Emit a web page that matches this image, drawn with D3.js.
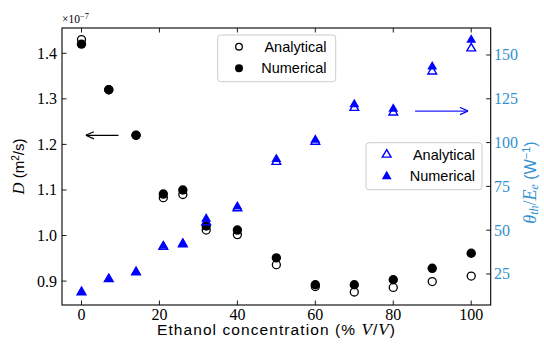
<!DOCTYPE html>
<html><head><meta charset="utf-8">
<script src="https://cdn.jsdelivr.net/npm/d3@7"></script>
<style>body{margin:0;background:#fff}svg{display:block}</style>
</head><body><svg id="c" width="544" height="347"></svg>
<script>
const conc = [0, 7, 14, 21, 26, 32, 40, 50, 60, 70, 80, 90, 100];
const dAnalytical = [1.43, 1.32, 1.22, 1.083, 1.09, 1.012, 1.002, 0.936, 0.888, 0.876, 0.886, 0.899, 0.911];
const dNumerical  = [1.42, 1.32, 1.22, 1.091, 1.10, 1.021, 1.012, 0.951, 0.892, 0.892, 0.903, 0.928, 0.961];
const thAnalytical = [14.6, 22.1, 26, 40.5, 42, 54.5, 62.5, 89, 100.5, 119.8, 117.2, 140.6, 153.8];
const thNumerical  = [14.6, 22.1, 26, 41, 42.5, 56.5, 63.4, 90.5, 101.5, 121.8, 119.2, 143.3, 158.6];
const xTicks = [0, 20, 40, 60, 80, 100];
const yLeftTicks = [0.9, 1.0, 1.1, 1.2, 1.3, 1.4];
const yRightTicks = [25, 50, 75, 100, 125, 150];
const legendLabels = ["Analytical", "Numerical"];

const svg = d3.select("#c");
const L = 62, R = 490.7, T = 28, B = 305;
const x = d3.scaleLinear([-5, 105], [L, R]);
const yL = d3.scaleLinear([0.8475, 1.4555], [B, T]);
const yR = d3.scaleLinear([7.3, 165.4], [B, T]);
const rightColor = "#3391d0";
const serif = "'Liberation Serif', serif";
const sans = "'Liberation Sans', sans-serif";

svg.append("defs").html(`
<marker id="ahK" viewBox="0 0 10 10" refX="10" refY="5" markerWidth="9" markerHeight="9" markerUnits="userSpaceOnUse" orient="auto"><path d="M1,1 L10,5 L1,9" fill="none" stroke="#000" stroke-width="1.3"/></marker>
<marker id="ahB" viewBox="0 0 10 10" refX="10" refY="5" markerWidth="9" markerHeight="9" markerUnits="userSpaceOnUse" orient="auto"><path d="M1,1 L10,5 L1,9" fill="none" stroke="#0000ff" stroke-width="1.3"/></marker>`);

// axes
const tickLen = 4.5;
const gx = svg.append("g");
xTicks.forEach(t => {
  gx.append("line").attr("x1", x(t)).attr("x2", x(t)).attr("y1", B).attr("y2", B - tickLen).attr("stroke", "#000").attr("stroke-width", 0.9);
  gx.append("line").attr("x1", x(t)).attr("x2", x(t)).attr("y1", T).attr("y2", T + tickLen).attr("stroke", "#000").attr("stroke-width", 0.9);
  gx.append("text").attr("x", x(t)).attr("y", 319.5).attr("text-anchor", "middle").attr("font-family", serif).attr("font-size", 16).attr("fill", "#000").text(t);
});
yLeftTicks.forEach(t => {
  gx.append("line").attr("x1", L).attr("x2", L + tickLen).attr("y1", yL(t)).attr("y2", yL(t)).attr("stroke", "#000").attr("stroke-width", 0.9);
  gx.append("text").attr("x", 57).attr("y", yL(t) + 5.5).attr("text-anchor", "end").attr("font-family", serif).attr("font-size", 16).attr("fill", "#000").text(t.toFixed(1));
});
yRightTicks.forEach(t => {
  gx.append("line").attr("x1", R).attr("x2", R - tickLen).attr("y1", yR(t)).attr("y2", yR(t)).attr("stroke", "#000").attr("stroke-width", 0.9);
  gx.append("text").attr("x", 494).attr("y", yR(t) + 5.5).attr("text-anchor", "start").attr("font-family", serif).attr("font-size", 16).attr("fill", rightColor).text(t);
});

// multiplier
const mt = svg.append("text").attr("x", 62).attr("y", 23).attr("font-family", serif).attr("font-size", 11.5).attr("fill", "#000");
mt.append("tspan").text("×10");
mt.append("tspan").attr("dy", -4).attr("font-size", 8.5).text("−7");

// labels
const xl = svg.append("text").attr("x", 157).attr("y", 335).attr("text-anchor", "start").attr("font-family", sans).attr("font-size", 15.5).attr("fill", "#000")
  .attr("textLength", 238).attr("lengthAdjust", "spacing");
xl.append("tspan").text("Ethanol concentration (% ");
xl.append("tspan").attr("font-family", serif).attr("font-style", "italic").attr("font-size", 17).text("V");
xl.append("tspan").text("/");
xl.append("tspan").attr("font-family", serif).attr("font-style", "italic").attr("font-size", 17).text("V");
xl.append("tspan").text(")");

const yl = svg.append("text").attr("transform", `translate(24,${(T + B) / 2}) rotate(-90)`).attr("text-anchor", "middle").attr("font-family", sans).attr("font-size", 15).attr("fill", "#000");
yl.append("tspan").attr("font-family", serif).attr("font-style", "italic").attr("font-size", 16.5).text("D");
yl.append("tspan").text(" (m");
yl.append("tspan").attr("dy", -5).attr("font-size", 10).text("2");
yl.append("tspan").attr("dy", 5).text("/s)");

const yr = svg.append("text").attr("transform", `translate(535.5,${(T + B) / 2 + 16}) rotate(-90)`).attr("text-anchor", "middle").attr("font-family", sans).attr("font-size", 16).attr("fill", rightColor);
yr.append("tspan").attr("font-family", serif).attr("font-style", "italic").attr("font-size", 18).text("θ");
yr.append("tspan").attr("font-family", serif).attr("font-style", "italic").attr("font-size", 12).attr("dy", 2.5).text("th");
yr.append("tspan").attr("font-family", serif).attr("font-size", 18).attr("dy", -2.5).text("/");
yr.append("tspan").attr("font-family", serif).attr("font-style", "italic").attr("font-size", 18).text("E");
yr.append("tspan").attr("font-family", serif).attr("font-style", "italic").attr("font-size", 12).attr("dy", 2.5).text("e");
yr.append("tspan").attr("dy", -2.5).text(" (W");
yr.append("tspan").attr("dy", -6).attr("font-size", 11).text("−1");
yr.append("tspan").attr("dy", 6).text(")");

// left data: circles
const gL = svg.append("g");
gL.selectAll("circle.a").data(conc).join("circle").attr("class", "a")
  .attr("cx", d => x(d)).attr("cy", (d, i) => yL(dAnalytical[i])).attr("r", 4)
  .attr("fill", "none").attr("stroke", "#000").attr("stroke-width", 1.3);
gL.selectAll("circle.n").data(conc).join("circle").attr("class", "n")
  .attr("cx", d => x(d)).attr("cy", (d, i) => yL(dNumerical[i])).attr("r", 4.7)
  .attr("fill", "#000");

// left arrow
svg.append("line").attr("x1", x(9.5)).attr("x2", x(1.1)).attr("y1", yL(1.22)).attr("y2", yL(1.22))
  .attr("stroke", "#000").attr("stroke-width", 1.3).attr("marker-end", "url(#ahK)");

// legend box
function legendBox(g, x0, y0, w, h) {
  g.append("rect").attr("x", x0).attr("y", y0).attr("width", w).attr("height", h).attr("rx", 3)
    .attr("fill", "#fff").attr("fill-opacity", 0.8).attr("stroke", "#ccc").attr("stroke-width", 1);
}
const lg1 = svg.append("g");
legendBox(lg1, 217.7, 35, 118, 46.7);
lg1.append("circle").attr("cx", 239).attr("cy", 46.7).attr("r", 3.3).attr("fill", "none").attr("stroke", "#000").attr("stroke-width", 1.3);
lg1.append("circle").attr("cx", 239).attr("cy", 68.3).attr("r", 4).attr("fill", "#000");
legendLabels.forEach((s, i) => lg1.append("text").attr("x", 326.5).attr("y", 51.5 + i * 21.6).attr("text-anchor", "end").attr("font-family", sans).attr("font-size", 14.5).attr("fill", "#000").text(s));

// right data: triangles
const tri = d3.symbol().type(d3.symbolTriangle).size(42);
const triS = d3.symbol().type(d3.symbolTriangle).size(33);
const gR = svg.append("g");
gR.selectAll("path.a").data(conc).join("path").attr("class", "a")
  .attr("d", triS).attr("transform", (d, i) => `translate(${x(d)},${yR(thAnalytical[i])})`)
  .attr("fill", "none").attr("stroke", "#0000ff").attr("stroke-width", 1.4);
gR.selectAll("path.n").data(conc).join("path").attr("class", "n")
  .attr("d", tri).attr("transform", (d, i) => `translate(${x(d)},${yR(thNumerical[i])})`)
  .attr("fill", "#0000ff");

// right arrow
svg.append("line").attr("x1", x(85.6)).attr("x2", x(99.2)).attr("y1", yR(118)).attr("y2", yR(118))
  .attr("stroke", "#2020ff").attr("stroke-width", 1.3).attr("marker-end", "url(#ahB)");

// legend 2
const lg2 = svg.append("g");
legendBox(lg2, 366, 142.7, 116, 47);
lg2.append("path").attr("d", triS).attr("transform", "translate(386.7,154.6)").attr("fill", "none").attr("stroke", "#0000ff").attr("stroke-width", 1.4);
lg2.append("path").attr("d", tri).attr("transform", "translate(386.7,176.5)").attr("fill", "#0000ff");
legendLabels.forEach((s, i) => lg2.append("text").attr("x", 475).attr("y", 159.5 + i * 21.6).attr("text-anchor", "end").attr("font-family", sans).attr("font-size", 14.5).attr("fill", "#000").text(s));

// spines
svg.append("rect").attr("x", L).attr("y", T).attr("width", R - L).attr("height", B - T)
  .attr("fill", "none").attr("stroke", "#000").attr("stroke-width", 1.1);
</script></body></html>
